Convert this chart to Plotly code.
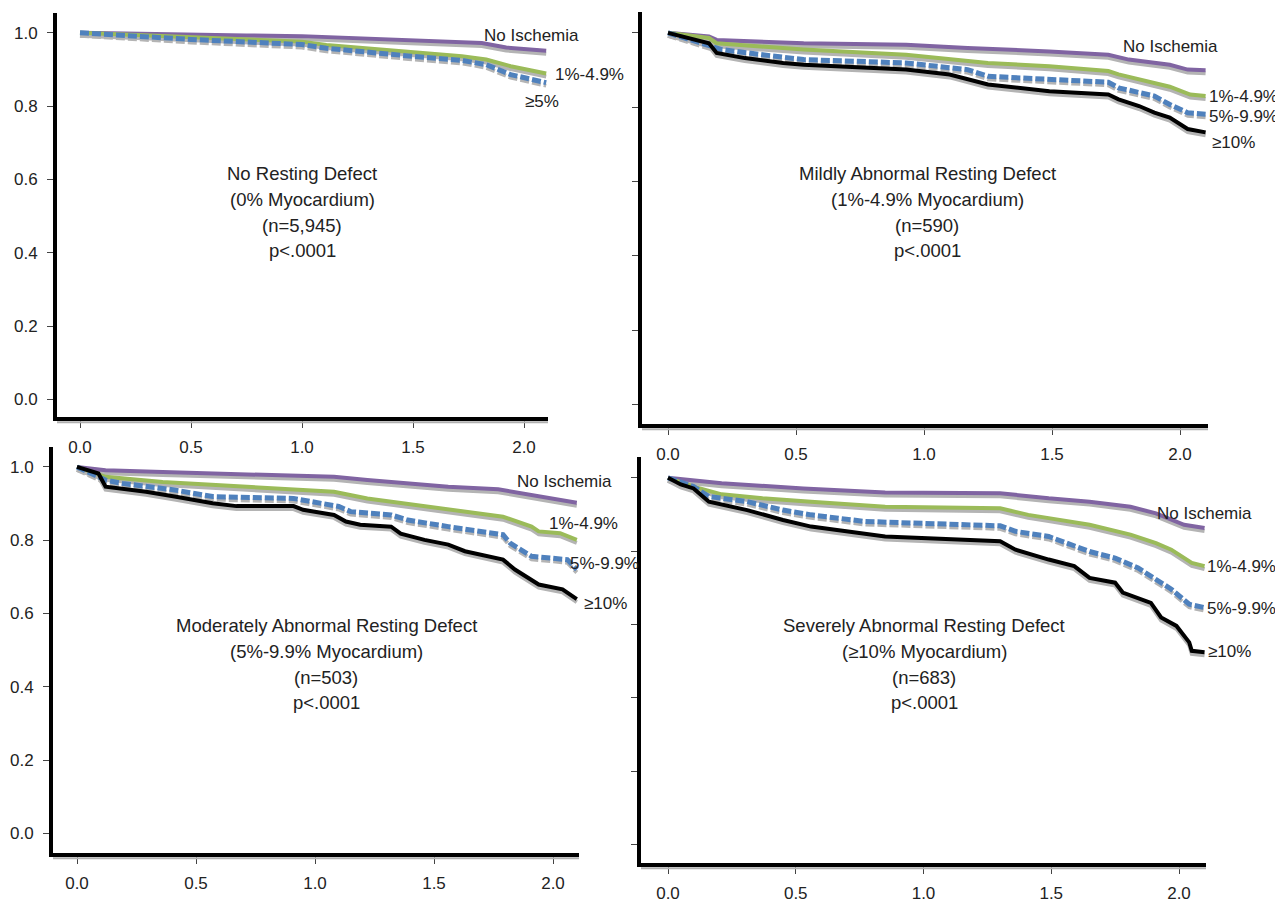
import plotly.graph_objects as go

PAGE_OFF = 8            # default body margin of the html page
W, H = 1283 - PAGE_OFF, 903 - PAGE_OFF
FONT = "Liberation Sans, Arial, sans-serif"

# ---------------- data (years vs survival) ----------------
# Panel 1: No Resting Defect
p1_noisch_x = [0, 0.25, 0.5, 0.75, 1.0, 1.25, 1.5, 1.72, 1.81, 1.92, 2.0, 2.1]
p1_noisch_y = [1.0, 0.997, 0.995, 0.993, 0.991, 0.985, 0.981, 0.976, 0.972, 0.960, 0.956, 0.951]
p1_mild_x = [0, 0.5, 1.0, 1.11, 1.48, 1.72, 1.83, 1.94, 2.1]
p1_mild_y = [1.0, 0.988, 0.976, 0.967, 0.949, 0.936, 0.927, 0.909, 0.889]
p1_ge5_x = [0, 0.25, 0.5, 1.0, 1.11, 1.48, 1.72, 1.83, 1.94, 2.1]
p1_ge5_y = [1.0, 0.990, 0.982, 0.968, 0.958, 0.937, 0.925, 0.913, 0.886, 0.864]

# Panel 2: Mildly Abnormal Resting Defect
p2_noisch_x = [0, 0.16, 0.19, 0.53, 0.93, 1.17, 1.49, 1.72, 1.80, 1.96, 2.03, 2.1]
p2_noisch_y = [1.0, 0.990, 0.981, 0.972, 0.968, 0.959, 0.950, 0.941, 0.928, 0.914, 0.901, 0.899]
p2_mild_x = [0, 0.16, 0.19, 0.53, 0.93, 1.25, 1.49, 1.72, 1.76, 1.96, 2.04, 2.1]
p2_mild_y = [1.0, 0.986, 0.972, 0.955, 0.941, 0.919, 0.910, 0.897, 0.888, 0.855, 0.834, 0.830]
p2_mod_x = [0, 0.18, 0.21, 0.37, 0.53, 0.93, 1.17, 1.25, 1.72, 1.76, 1.90, 1.96, 2.03, 2.1]
p2_mod_y = [1.0, 0.963, 0.955, 0.941, 0.928, 0.919, 0.901, 0.883, 0.867, 0.852, 0.830, 0.807, 0.785, 0.781]
p2_sev_x = [0, 0.16, 0.19, 0.30, 0.45, 0.53, 0.93, 1.10, 1.25, 1.49, 1.72, 1.76, 1.84, 1.90, 1.96, 2.03, 2.1]
p2_sev_y = [1.0, 0.972, 0.946, 0.932, 0.919, 0.914, 0.901, 0.888, 0.861, 0.843, 0.834, 0.821, 0.803, 0.785, 0.772, 0.741, 0.732]

# Panel 3: Moderately Abnormal Resting Defect
p3_noisch_x = [0, 0.12, 0.36, 0.71, 1.08, 1.22, 1.39, 1.56, 1.77, 1.94, 2.1]
p3_noisch_y = [1.0, 0.991, 0.986, 0.979, 0.973, 0.964, 0.955, 0.946, 0.939, 0.919, 0.902]
p3_mild_x = [0, 0.12, 0.36, 0.71, 0.91, 1.08, 1.22, 1.32, 1.39, 1.56, 1.79, 1.91, 1.94, 2.03, 2.1]
p3_mild_y = [1.0, 0.973, 0.959, 0.946, 0.941, 0.932, 0.914, 0.905, 0.901, 0.883, 0.864, 0.837, 0.824, 0.819, 0.801]
p3_mod_x = [0, 0.12, 0.19, 0.41, 0.57, 0.91, 1.10, 1.15, 1.32, 1.39, 1.56, 1.79, 1.82, 1.91, 2.06, 2.1]
p3_mod_y = [1.0, 0.964, 0.955, 0.937, 0.919, 0.914, 0.892, 0.878, 0.869, 0.855, 0.837, 0.815, 0.792, 0.756, 0.747, 0.720]
p3_sev_x = [0, 0.09, 0.12, 0.29, 0.41, 0.57, 0.67, 0.91, 0.95, 1.08, 1.13, 1.19, 1.32, 1.36, 1.46, 1.56,
            1.63, 1.70, 1.79, 1.84, 1.91, 1.94, 2.04, 2.08, 2.1]
p3_sev_y = [1.0, 0.982, 0.946, 0.932, 0.919, 0.901, 0.893, 0.893, 0.883, 0.869, 0.851, 0.842, 0.837, 0.818, 0.801, 0.788,
            0.770, 0.761, 0.747, 0.720, 0.693, 0.679, 0.666, 0.648, 0.639]

# Panel 4: Severely Abnormal Resting Defect
p4_noisch_x = [0, 0.10, 0.21, 0.53, 0.85, 1.30, 1.49, 1.65, 1.81, 1.91, 2.02, 2.1]
p4_noisch_y = [1.0, 0.994, 0.985, 0.971, 0.960, 0.958, 0.944, 0.935, 0.921, 0.903, 0.872, 0.863]
p4_mild_x = [0, 0.10, 0.21, 0.37, 0.56, 0.85, 1.30, 1.41, 1.49, 1.65, 1.81, 1.91, 1.97, 2.05, 2.1]
p4_mild_y = [1.0, 0.976, 0.955, 0.944, 0.935, 0.921, 0.917, 0.899, 0.890, 0.872, 0.845, 0.822, 0.804, 0.768, 0.759]
p4_mod_x = [0, 0.10, 0.16, 0.31, 0.45, 0.56, 0.77, 1.30, 1.36, 1.49, 1.65, 1.75, 1.84, 1.91, 1.97, 2.04, 2.1]
p4_mod_y = [1.0, 0.976, 0.949, 0.935, 0.912, 0.899, 0.881, 0.869, 0.854, 0.840, 0.799, 0.781, 0.754, 0.723, 0.696, 0.655, 0.646]
p4_sev_x = [0, 0.05, 0.10, 0.16, 0.31, 0.45, 0.56, 0.69, 0.85, 1.30, 1.36, 1.49, 1.59, 1.65, 1.75, 1.78,
            1.89, 1.93, 1.99, 2.04, 2.05, 2.1]
p4_sev_y = [1.0, 0.982, 0.971, 0.935, 0.912, 0.885, 0.867, 0.854, 0.840, 0.827, 0.804, 0.777, 0.759, 0.727, 0.714, 0.687,
            0.659, 0.619, 0.596, 0.551, 0.528, 0.524]

x_tick_vals = [0, 0.5, 1.0, 1.5, 2.0]
x_tick_text = ["0.0", "0.5", "1.0", "1.5", "2.0"]
y_tick_vals = [0, 0.2, 0.4, 0.6, 0.8, 1.0]
y_tick_text = ["0.0", "0.2", "0.4", "0.6", "0.8", "1.0"]

panel_titles = [
    ["No Resting Defect", "(0% Myocardium)", "(n=5,945)", "p<.0001"],
    ["Mildly Abnormal Resting Defect", "(1%-4.9% Myocardium)", "(n=590)", "p<.0001"],
    ["Moderately Abnormal Resting Defect", "(5%-9.9% Myocardium)", "(n=503)", "p<.0001"],
    ["Severely Abnormal Resting Defect", "(≥10% Myocardium)", "(n=683)", "p<.0001"],
]
series_names = {
    1: ["No Ischemia", "1%-4.9%", "≥5%"],
    2: ["No Ischemia", "1%-4.9%", "5%-9.9%", "≥10%"],
    3: ["No Ischemia", "1%-4.9%", "5%-9.9%", "≥10%"],
    4: ["No Ischemia", "1%-4.9%", "5%-9.9%", "≥10%"],
}

# ---------------- styles / layout (page pixels) ----------------
COL = {"noisch": "#8064a2", "mild": "#9bbb59", "mod": "#4f81bd", "sev": "#000000"}
DASH = {"noisch": "solid", "mild": "solid", "mod": "9px,3px", "sev": "solid"}


def paper_x(px):
    return (px - PAGE_OFF) / W


def paper_y(py):
    return 1 - (py - PAGE_OFF) / H


panels = [
    dict(series=[("noisch", p1_noisch_x, p1_noisch_y), ("mild", p1_mild_x, p1_mild_y),
                 ("mod", p1_ge5_x, p1_ge5_y)],
         dom_x=(57, 548), dom_y=(13, 420), x0=80, x2=524, y0=402, y1=33, labels=True,
         title_c=(302, [175, 201, 227, 252]),
         lab_pos=[(482, 36), (553, 75), (523, 102)]),
    dict(series=[("noisch", p2_noisch_x, p2_noisch_y), ("mild", p2_mild_x, p2_mild_y),
                 ("mod", p2_mod_x, p2_mod_y), ("sev", p2_sev_x, p2_sev_y)],
         dom_x=(642, 1208), dom_y=(12, 427), x0=668, x2=1180, y0=407, y1=33, labels=False,
         title_c=(927, [175, 201, 227, 252]),
         lab_pos=[(1121, 47), (1207, 97), (1207, 117), (1210, 143)]),
    dict(series=[("noisch", p3_noisch_x, p3_noisch_y), ("mild", p3_mild_x, p3_mild_y),
                 ("mod", p3_mod_x, p3_mod_y), ("sev", p3_sev_x, p3_sev_y)],
         dom_x=(53, 579), dom_y=(450, 859), x0=77, x2=553, y0=839, y1=470, labels=True,
         title_c=(326, [630, 656, 682, 707]),
         lab_pos=[(515, 485), (547, 527), (568, 567), (582, 608)]),
    dict(series=[("noisch", p4_noisch_x, p4_noisch_y), ("mild", p4_mild_x, p4_mild_y),
                 ("mod", p4_mod_x, p4_mod_y), ("sev", p4_sev_x, p4_sev_y)],
         dom_x=(641, 1206), dom_y=(460, 869), x0=668, x2=1179, y0=850, y1=481, labels=False,
         title_c=(924, [630, 656, 682, 707]),
         lab_pos=[(1155, 517), (1205, 570), (1205, 613), (1206, 656)]),
]

fig = go.Figure()
layout = dict(width=W, height=H, margin=dict(l=0, r=0, t=0, b=0), paper_bgcolor="white",
              plot_bgcolor="white", showlegend=False, font=dict(family=FONT, size=17, color="#222"))
annotations = []
shapes = []

for i, p in enumerate(panels):
    n = "" if i == 0 else str(i + 1)
    xa, ya = "x" + n, "y" + n
    xpx = (p["x2"] - p["x0"]) / 2.0
    ypx = (p["y0"] - p["y1"])
    xr = [(p["dom_x"][0] - p["x0"]) / xpx, (p["dom_x"][1] - p["x0"]) / xpx]
    yr = [(p["y0"] - p["dom_y"][1]) / ypx, (p["y0"] - p["dom_y"][0]) / ypx]
    shadow = 3.0 / ypx
    for key, xs, ys in p["series"]:
        fig.add_trace(go.Scatter(x=xs, y=[v - shadow for v in ys], mode="lines", xaxis=xa, yaxis=ya,
                                 line=dict(color="#b4b4b4", width=4, dash=DASH[key]), hoverinfo="skip"))
    for key, xs, ys in p["series"]:
        fig.add_trace(go.Scatter(x=xs, y=ys, mode="lines", xaxis=xa, yaxis=ya,
                                 line=dict(color=COL[key], width=4 if key != "mod" else 5, dash=DASH[key])))
    xd = [paper_x(p["dom_x"][0]), paper_x(p["dom_x"][1])]
    yd = [paper_y(p["dom_y"][1]), paper_y(p["dom_y"][0])]
    layout["xaxis" + n] = dict(domain=xd, range=xr, anchor=ya, showgrid=False, zeroline=False,
                               showline=True, linecolor="black", linewidth=4,
                               ticks="outside", ticklen=7, tickwidth=1, tickcolor="#444",
                               tickvals=x_tick_vals, ticktext=x_tick_text, ticklabelstandoff=4,
                               tickfont=dict(family=FONT, size=17, color="#222"))
    layout["yaxis" + n] = dict(domain=yd, range=yr, anchor=xa, showgrid=False, zeroline=False,
                               showline=True, linecolor="black", linewidth=4,
                               ticks="outside", ticklen=6, tickwidth=1, tickcolor="#444",
                               tickvals=y_tick_vals, ticktext=y_tick_text, showticklabels=p["labels"],
                               ticklabelstandoff=6, tickfont=dict(family=FONT, size=17, color="#222"))
    # grey shadow under the x-axis line
    sy = paper_y(p["dom_y"][1] + 5)
    shapes.append(dict(type="line", xref="paper", yref="paper", x0=xd[0], x1=xd[1],
                       y0=sy, y1=sy, line=dict(color="#b0b0b0", width=2)))
    cx, lines_y = p["title_c"]
    for txt, ly in zip(panel_titles[i], lines_y):
        annotations.append(dict(x=paper_x(cx), y=paper_y(ly), xref="paper", yref="paper", text=txt,
                                showarrow=False, xanchor="center", yanchor="middle",
                                font=dict(family=FONT, size=18.5, color="#222")))
    for txt, (lx, ly) in zip(series_names[i + 1], p["lab_pos"]):
        annotations.append(dict(x=paper_x(lx), y=paper_y(ly), xref="paper", yref="paper", text=txt,
                                showarrow=False, xanchor="left", yanchor="middle",
                                font=dict(family=FONT, size=17, color="#222")))

layout["annotations"] = annotations
layout["shapes"] = shapes
fig.update_layout(**layout)
fig.write_html("out.html")
